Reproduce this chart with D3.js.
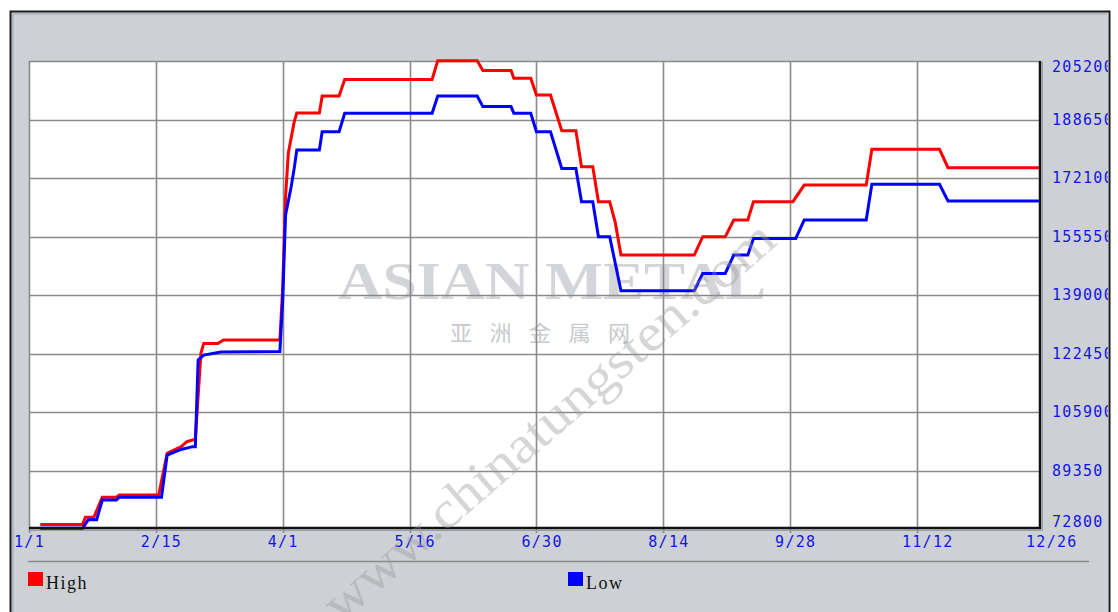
<!DOCTYPE html>
<html>
<head>
<meta charset="utf-8">
<title>High / Low</title>
<script src="https://d3js.org/d3.v7.min.js"></script>
<style>
  body { margin: 0; background: #fff; }
  svg { display: block; }
</style>
</head>
<body>
<div id="chart"></div>
<script>
// tick labels (x) and scale values (y)
var tickLabels = ["1/1", "2/15", "4/1", "5/16", "6/30", "8/14", "9/28", "11/12", "12/26"];
var yTicks = [72800, 89350, 105900, 122450, 139000, 155550, 172100, 188650, 205200];

// High series
var highDates = ["1/5", "1/20", "1/21", "1/24", "1/27", "2/1", "2/2", "2/16", "2/19", "2/24", "2/26", "3/1", "3/3", "3/4",
	"3/9", "3/11", "3/31", "4/1", "4/2", "4/3", "4/5", "4/6", "4/14", "4/15", "4/21", "4/23", "5/24", "5/26",
	"6/9", "6/11", "6/21", "6/22", "6/28", "6/30", "7/5", "7/9", "7/14", "7/16", "7/20", "7/22", "7/26", "7/28",
	"7/30", "8/25", "8/28", "9/5", "9/8", "9/13", "9/15", "9/29", "10/3", "10/25", "10/27", "11/20", "11/23", "12/26"];
var highValues = [74100, 74100, 76100, 76100, 81800, 81800, 82400, 82400, 94200, 96100, 97500, 98200, 122600, 125300,
	125300, 126300, 126300, 141000, 166700, 179200, 187700, 190500, 190500, 195300, 195300, 200000, 200000, 205300,
	205300, 202500, 202500, 200300, 200300, 195600, 195600, 185500, 185500, 175300, 175300, 165400, 165400, 159400,
	150300, 150300, 155500, 155500, 160200, 160200, 165400, 165400, 170100, 170100, 180200, 180200, 175000, 175000];

// Low series
var lowDates = ["1/5", "1/20", "1/22", "1/25", "1/27", "2/1", "2/2", "2/17", "2/19", "2/22", "2/24", "2/28", "3/1", "3/2",
	"3/4", "3/10", "3/31", "4/1", "4/2", "4/4", "4/5", "4/6", "4/14", "4/15", "4/21", "4/23", "5/24", "5/26",
	"6/9", "6/11", "6/21", "6/22", "6/28", "6/30", "7/5", "7/9", "7/14", "7/16", "7/20", "7/22", "7/26", "7/30",
	"8/25", "8/28", "9/5", "9/8", "9/13", "9/15", "9/30", "10/3", "10/25", "10/27", "11/20", "11/23", "12/26"];
var lowValues = [73000, 73000, 75400, 75400, 81000, 81000, 81800, 81800, 93700, 94700, 95300, 96100, 96100, 120600,
	122000, 122900, 123000, 137600, 161600, 169600, 174400, 180000, 180000, 185200, 185200, 190400, 190400, 195300,
	195300, 192300, 192300, 190400, 190400, 185200, 185200, 174800, 174800, 165400, 165400, 155500, 155500, 140200,
	140200, 145100, 145100, 150300, 150300, 155000, 155000, 160200, 160200, 170300, 170300, 165600, 165600];

var seriesNames = ["High", "Low"];
var seriesColors = ["#ff0000", "#0000ff"];

var W = 1118, H = 612;
var plotLeft = 29, plotRight = 1041, plotTop = 61, plotBottom = 529;

// 1900 is not a leap year, which is what the axis spacing needs
var parse = d3.timeParse("%m/%d");

var x = d3.scaleTime()
	.domain([parse("1/1"), parse("12/26")])
	.range([plotLeft, plotRight]);
var y = d3.scaleLinear()
	.domain([72800, 205200])
	.range([plotBottom, plotTop]);

var svg = d3.select("#chart")
	.append("svg")
	.attr("width", W)
	.attr("height", H);

var defs = svg.append("defs");
defs.append("clipPath")
	.attr("id", "frameClip")
	.append("rect")
	.attr("x", 10).attr("y", 11).attr("width", 1098).attr("height", H);

// outer gray panel
svg.append("rect")
	.attr("x", 11).attr("y", 12)
	.attr("width", 1097).attr("height", H)
	.style("fill", "#cdd1d5");
svg.append("path")
	.attr("d", "M10.5," + H + "V11.5H1109.5V" + H)
	.style("fill", "none")
	.style("stroke", "#1a1a1a")
	.style("stroke-width", 2);
svg.append("path")
	.attr("d", "M13," + H + "V14H1107")
	.style("fill", "none")
	.style("stroke", "#b6babe")
	.style("stroke-width", 2);

var frame = svg.append("g").attr("clip-path", "url(#frameClip)");

// plot area
frame.append("rect")
	.attr("x", plotLeft).attr("y", plotTop)
	.attr("width", plotRight - plotLeft).attr("height", plotBottom - plotTop)
	.style("fill", "#ffffff");

// watermark behind the lines
frame.append("text")
	.attr("x", 552).attr("y", 299)
	.attr("text-anchor", "middle")
	.attr("textLength", 428)
	.attr("lengthAdjust", "spacingAndGlyphs")
	.style("font-family", "'Liberation Serif', serif")
	.style("font-weight", "bold")
	.style("font-size", "52px")
	.style("fill", "#d3d5d9")
	.text("ASIAN METAL");
frame.append("text")
	.attr("x", 540).attr("y", 341)
	.attr("text-anchor", "middle")
	.attr("textLength", 180)
	.style("font-family", "'Noto Sans CJK SC', sans-serif")
	.style("font-size", "22px")
	.style("fill", "#c8cacd")
	.text("亚洲金属网");

// grid
var tickDates = tickLabels.map(function(d) { return parse(d); });
frame.selectAll("line.vgrid")
	.data(tickDates.slice(1, -1))
	.enter()
	.append("line")
	.attr("class", "vgrid")
	.attr("x1", function(d) { return Math.round(x(d)) + 0.5; })
	.attr("x2", function(d) { return Math.round(x(d)) + 0.5; })
	.attr("y1", plotTop).attr("y2", plotBottom + 4)
	.style("stroke", "#8a8a8a")
	.style("stroke-width", 1.6);
frame.selectAll("line.hgrid")
	.data(yTicks.slice(1, -1))
	.enter()
	.append("line")
	.attr("class", "hgrid")
	.attr("x1", plotLeft).attr("x2", plotRight)
	.attr("y1", function(d) { return Math.round(y(d)) + 0.5; })
	.attr("y2", function(d) { return Math.round(y(d)) + 0.5; })
	.style("stroke", "#8a8a8a")
	.style("stroke-width", 1.6);

// plot border: gray top/left, black bottom/right
frame.append("path")
	.attr("d", "M" + (plotLeft + 0.5) + "," + (plotBottom + 4) + "V" + (plotTop + 0.5) + "H" + plotRight)
	.style("fill", "none")
	.style("stroke", "#8a8a8a")
	.style("stroke-width", 1.6);

// series lines
var line = d3.line()
	.x(function(d) { return x(d.date); })
	.y(function(d) { return y(d.value); });

var highData = highDates.map(function(d, i) { return { date: parse(d), value: highValues[i] }; });
var lowData = lowDates.map(function(d, i) { return { date: parse(d), value: lowValues[i] }; });

frame.selectAll("path.series")
	.data([highData, lowData])
	.enter()
	.append("path")
	.attr("class", "series")
	.attr("d", line)
	.style("fill", "none")
	.style("stroke", function(d, i) { return seriesColors[i]; })
	.style("stroke-width", 3)
	.style("stroke-linejoin", "miter");

frame.append("path")
	.attr("d", "M" + plotLeft + "," + (plotBottom - 1) + "H" + (plotRight - 1) + "V" + plotTop)
	.style("fill", "none")
	.style("stroke", "#111")
	.style("stroke-width", 2.5);
frame.append("path")
	.attr("d", "M" + (plotLeft + 1) + "," + (plotBottom + 1.5) + "H" + (plotRight + 1.5) + "V" + (plotTop + 1))
	.style("fill", "none")
	.style("stroke", "#9a9ea2")
	.style("stroke-width", 1);

// x labels
frame.selectAll("text.xlab")
	.data(tickLabels)
	.enter()
	.append("text")
	.attr("class", "xlab")
	.attr("x", function(d) { return x(parse(d)) - 15; })
	.attr("y", 547)
	.style("font-family", "'DejaVu Sans Mono', monospace")
	.style("font-size", "15px")
	.style("letter-spacing", "1.3px")
	.style("fill", "#1414e6")
	.text(function(d) { return d; });

// y labels on the right, clipped by the frame edge
frame.selectAll("text.ylab")
	.data(yTicks)
	.enter()
	.append("text")
	.attr("class", "ylab")
	.attr("x", 1052)
	.attr("y", function(d) { return Math.max(67, Math.min(522, y(d))); })
	.attr("dy", "0.36em")
	.style("font-family", "'DejaVu Sans Mono', monospace")
	.style("font-size", "15px")
	.style("letter-spacing", "1.3px")
	.style("fill", "#1414e6")
	.text(function(d) { return d; });

// legend
frame.append("line")
	.attr("x1", 28).attr("x2", 1089)
	.attr("y1", 561.5).attr("y2", 561.5)
	.style("stroke", "#8a8a8a")
	.style("stroke-width", 1.6);

var legendX = [28, 568];
var legend = frame.selectAll("g.legend")
	.data(seriesNames)
	.enter()
	.append("g")
	.attr("class", "legend")
	.attr("transform", function(d, i) { return "translate(" + legendX[i] + ",572)"; });
legend.append("rect")
	.attr("width", 15).attr("height", 14)
	.style("fill", function(d, i) { return seriesColors[i]; });
legend.append("text")
	.attr("x", 18).attr("y", 17)
	.style("font-family", "'Liberation Serif', serif")
	.style("font-size", "18px")
	.style("letter-spacing", "1.5px")
	.style("fill", "#111")
	.text(function(d) { return d; });

// diagonal watermark over everything
frame.append("text")
	.attr("transform", "translate(548,420) rotate(-41)")
	.attr("text-anchor", "middle")
	.attr("dy", "0.35em")
	.attr("textLength", 580)
	.attr("lengthAdjust", "spacingAndGlyphs")
	.style("font-family", "'Liberation Serif', serif")
	.style("font-size", "52px")
	.style("fill", "#9a9a9a")
	.style("opacity", 0.4)
	.text("www.chinatungsten.com");
</script>
</body>
</html>
